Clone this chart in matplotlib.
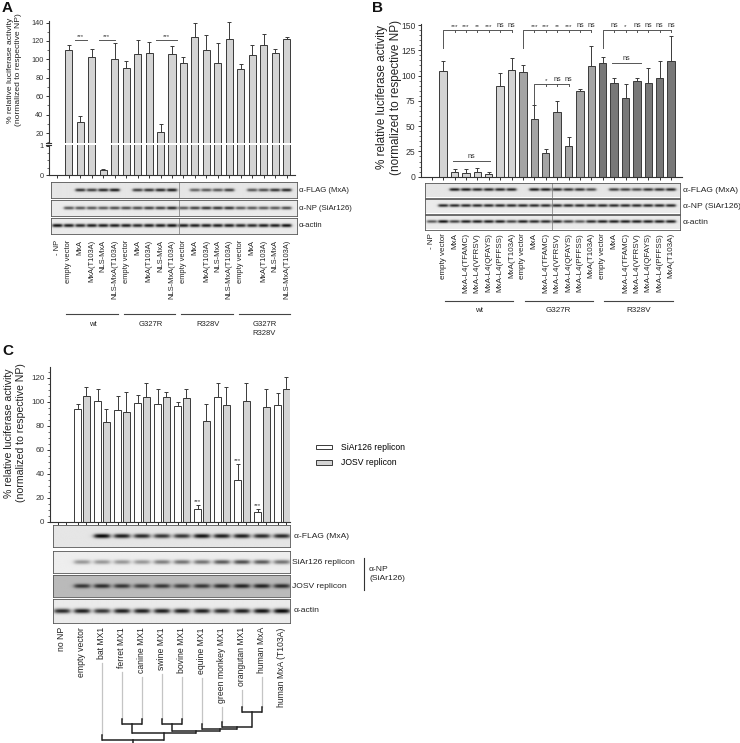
import numpy as np
import matplotlib
matplotlib.use('Agg')
import matplotlib.pyplot as plt
from matplotlib.ticker import MultipleLocator
from matplotlib.patches import Patch

plt.rcParams['font.family'] = ['Liberation Sans', 'DejaVu Sans']
plt.rcParams['axes.linewidth'] = 0.8

# ---------------- data ----------------
A_constructs = ['empty vector', 'MxA', 'MxA(T103A)', 'NLS-MxA', 'NLS-MxA(T103A)']
A_groups = ['wt', 'G327R', 'R328V', 'G327R\nR328V']
A_labels = ['- NP'] + A_constructs * 4
A_values = [0, 110.5, 32, 102.5, 0.17, 100.5,
            91, 105.5, 107, 21, 105.5,
            96, 124.5, 110.5, 96, 122.5,
            90, 105, 116, 107, 122.5]
A_errors = [0, 5.5, 6, 9, 0.05, 17,
            7, 16, 12, 9, 9.5,
            7, 15.5, 15.5, 22, 18.5,
            5, 11, 11.5, 4.5, 2]
A_flag = [0, 0, 0.75, 0.7, 0.8, 0.85, 0, 0.7, 0.75, 0.8, 0.85,
          0, 0.55, 0.6, 0.6, 0.7, 0, 0.6, 0.65, 0.75, 0.8]
A_np = [0, 0.6, 0.6, 0.6, 0.6, 0.65, 0.65, 0.65, 0.7, 0.7, 0.8,
        0.6, 0.7, 0.75, 0.75, 0.75, 0.6, 0.6, 0.6, 0.6, 0.65]
A_actin = [0.9, 0.85, 0.8, 0.85, 0.85, 0.85, 0.85, 0.8, 0.85, 0.85, 0.9,
           0.85, 0.85, 0.85, 0.85, 0.85, 0.8, 0.8, 0.85, 0.85, 0.9]
A_blot_rows = ['α-FLAG (MxA)', 'α-NP (SiAr126)', 'α-actin']

B_constructs = ['empty vector', 'MxA', 'MxA-L4(TFAMC)', 'MxA-L4(VFRSV)',
                'MxA-L4(QFAYS)', 'MxA-L4(PFFSS)', 'MxA(T103A)']
B_groups = ['wt', 'G327R', 'R328V']
B_labels = ['- NP'] + B_constructs * 3
B_values = [0, 104.5, 4.7, 3.3, 4.7, 2.7, 89.5, 105.5,
            104, 57.5, 23.8, 64, 30.7, 84.5, 109,
            112, 92.5, 78, 94.7, 92.5, 98, 114.5]
B_errors = [0, 9.5, 2.6, 4, 4, 1.6, 13, 11.5,
            6, 13, 3.3, 11, 9, 2.3, 20.5,
            6, 5.5, 13.5, 2.7, 15, 16.5, 25]
B_sig = ['***', '***', '**', '***', 'ns', 'ns',
         '***', '***', '**', '***', 'ns', 'ns',
         'ns', '*', 'ns', 'ns', 'ns', 'ns']
B_sig_inner = ['*', 'ns', 'ns']
B_flag = [0, 0, 0.85, 0.85, 0.8, 0.8, 0.8, 0.8, 0, 0.85, 0.85,
          0.8, 0.75, 0.75, 0.65, 0, 0.7, 0.7, 0.65, 0.75, 0.75, 0.8]
B_np = [0] + [0.8] * 21
B_actin = [0.6, 0.9, 0.7, 0.85, 0.85, 0.85, 0.85, 0.7, 0.85, 0.8, 0.8,
           0.8, 0.7, 0.6, 0.8, 0.85, 0.85, 0.85, 0.85, 0.85, 0.85, 0.85]

C_species = ['no NP', 'empty vector', 'bat MX1', 'ferret MX1', 'canine MX1',
             'swine MX1', 'bovine MX1', 'equine MX1', 'green monkey MX1',
             'orangutan MX1', 'human MxA', 'human MxA (T103A)']
C_series = ['SiAr126 replicon', 'JOSV replicon']
C_siar = [0, 94, 100.5, 93, 99, 98, 96.5, 10.6, 104, 35, 8.4, 97]
C_siar_err = [0, 4, 10.5, 11.7, 7, 13, 3, 3.4, 12, 13, 2.2, 10.5]
C_josv = [0, 104.7, 83, 91.5, 104, 104, 103.5, 83.7, 97, 101, 95.7, 111]
C_josv_err = [0, 8, 11, 16.5, 11.5, 4, 7.5, 14.3, 15, 15, 15.3, 9.6]
C_sig = ['', '', '', '', '', '', '', '***', '', '***', '***', '']
C_flag = [0, 0, 0.95, 0.85, 0.8, 0.75, 0.75, 0.9, 0.85, 0.85, 0.8, 0.8]
C_siar_blot = [0, 0.35, 0.35, 0.35, 0.35, 0.45, 0.5, 0.5, 0.6, 0.65, 0.6, 0.5]
C_josv_blot = [0, 0.7, 0.75, 0.7, 0.65, 0.7, 0.65, 0.7, 0.75, 0.8, 0.8, 0.75]
C_actin = [0.8, 0.85, 0.75, 0.85, 0.85, 0.85, 0.85, 0.85, 0.8, 0.85, 0.9, 0.95]
C_blot_rows = ['α-FLAG (MxA)', 'SiAr126 replicon', 'JOSV replicon', 'α-actin']
# dendrogram: (left child, right child, join level in px); children >= 100 are earlier nodes
C_tree = [(9, 10, 711.7), (8, 100, 726.7), (7, 101, 729.3), (5, 6, 724),
          (103, 102, 730.7), (3, 4, 724), (105, 104, 733.3), (2, 106, 740)]

# ---------------- layout helpers ----------------
W, H = 740, 743
fig = plt.figure(figsize=(W / 100, H / 100), dpi=100)
DARK = '#333333'
EDGE = '#3a3a3a'


def rect(x0, y0, x1, y1):
    return [x0 / W, 1 - y1 / H, (x1 - x0) / W, (y1 - y0) / H]


def style_ax(ax, fs):
    for s in ['top', 'right']:
        ax.spines[s].set_visible(False)
    for s in ax.spines.values():
        s.set_color(DARK)
    ax.tick_params(axis='both', which='major', length=2.5, width=0.7, colors=DARK,
                   labelsize=fs, pad=1.5)
    ax.tick_params(axis='both', which='minor', length=1.4, width=0.5, colors=DARK)
    ax.set_facecolor('none')


def draw_blot(ax, intens, xlim, bg=0.1, half=0.42, sy=0.1, yc=0.5):
    nx, ny = 700, 48
    xs = np.linspace(xlim[0], xlim[1], nx)
    ys = np.linspace(0, 1, ny)
    X, Y = np.meshgrid(xs, ys)
    img = np.full((ny, nx), float(bg))
    for lane, v in enumerate(intens):
        if v <= 0:
            continue
        px = 1.0 / (1.0 + np.exp((np.abs(X - lane) - half) / 0.07))
        py = np.exp(-((Y - yc) / sy) ** 2)
        img = img + (1 - img) * min(1.0, v * 1.05) * px * py
    ax.imshow(img, cmap='gray_r', vmin=0, vmax=1, extent=(xlim[0], xlim[1], 0, 1),
              origin='lower', aspect='auto', interpolation='bilinear')
    ax.set_xlim(xlim)
    ax.set_ylim(0, 1)
    ax.set_yticks([])
    ax.set_xticks([])
    for s in ax.spines.values():
        s.set_color('#555555')
        s.set_linewidth(0.6)


def dA(px):
    return (px - 57.3) / 11.47


def dB(px):
    return (px - 431.7) / 11.4


def dC(px):
    return (px - 62) / 20.0


# ---------------- panel A ----------------
xa = np.arange(len(A_labels))
va = np.array(A_values)
ea = np.array(A_errors)
axAu = fig.add_axes(rect(49, 20.5, 295, 143))
axAl = fig.add_axes(rect(49, 145, 295, 175))
m = va > 0
for ax in (axAu, axAl):
    ax.bar(xa[m], va[m], width=0.62, color='#d4d4d4', edgecolor=EDGE, linewidth=0.7, zorder=2)
    ax.set_xlim(dA(49), dA(295))
    style_ax(ax, 5.3)
mu = va > 1.05
axAu.errorbar(xa[mu], va[mu], yerr=[np.zeros(mu.sum()), ea[mu]], fmt='none',
              ecolor=EDGE, elinewidth=0.7, capsize=1.6, capthick=0.7, zorder=3)
ml = (va > 0) & (va <= 1.05)
axAl.errorbar(xa[ml], va[ml], yerr=[np.zeros(ml.sum()), ea[ml]], fmt='none',
              ecolor=EDGE, elinewidth=0.7, capsize=1.6, capthick=0.7, zorder=3)
axAu.set_ylim(9.19, 142.2)
axAu.set_yticks(np.arange(20, 141, 20))
axAu.yaxis.set_minor_locator(MultipleLocator(10))
axAu.spines['bottom'].set_visible(False)
axAu.set_xticks([])
axAl.set_ylim(0, 1.03)
axAl.set_yticks([0, 1])
axAl.yaxis.set_minor_locator(MultipleLocator(0.25))
axAl.set_xticks(xa)
axAl.set_xticklabels([])
# significance
for (x0, x1) in [(1.5, 2.6), (3.6, 5.0), (8.6, 10.4)]:
    axAu.plot([x0, x1], [120.5, 120.5], color='#555555', lw=0.7, clip_on=False)
    axAu.text((x0 + x1) / 2, 122.5, '***', ha='center', va='bottom', fontsize=4.3, color=DARK)

# blots A
A_strips = [(182, 198), (200, 216), (218, 234)]
A_ints = [A_flag, A_np, A_actin]
for k, ((y0, y1), ints, lab) in enumerate(zip(A_strips, A_ints, A_blot_rows)):
    ax = fig.add_axes(rect(51, y0, 297, y1))
    draw_blot(ax, ints, (dA(51), dA(297)), bg=0.1 if k == 0 else 0.08)
    ax.axvline(10.6, color='#777777', lw=0.5)
    ax.text(1.008, 0.5, lab, transform=ax.transAxes, ha='left', va='center', fontsize=5.6, color='#222222')
    if k == 2:
        ax.set_xticks(xa)
        ax.set_xticklabels(A_labels, rotation=90, fontsize=5.4, color='#222222')
        ax.tick_params(axis='x', length=0, pad=4)
        axA_bl = ax

# ---------------- panel B ----------------
xb = np.arange(len(B_labels))
vb = np.array(B_values)
eb = np.array(B_errors)
colB = np.array(['#ffffff'] + ['#d4d4d4'] * 7 + ['#a4a4a4'] * 7 + ['#787878'] * 7)
axB = fig.add_axes(rect(421, 24, 682, 176.7))
mb = vb > 0
axB.bar(xb[mb], vb[mb], width=0.64, color=colB[mb], edgecolor=EDGE, linewidth=0.7, zorder=2)
axB.errorbar(xb[mb], vb[mb], yerr=[np.zeros(mb.sum()), eb[mb]], fmt='none',
             ecolor=EDGE, elinewidth=0.7, capsize=1.6, capthick=0.7, zorder=3)
axB.set_xlim(dB(421), dB(682))
axB.set_ylim(0, 151)
axB.set_yticks(np.arange(0, 151, 25))
axB.yaxis.set_minor_locator(MultipleLocator(5))
axB.set_xticks(xb)
axB.set_xticklabels([])
style_ax(axB, 6.2)
bk = dict(color='#555555', lw=0.7, clip_on=False)
for g in range(3):
    s = 1 + 7 * g
    top = 145.2
    axB.plot([s, s, s + 6], [127, top, top], **bk)
    for j in range(1, 7):
        axB.plot([s + j, s + j], [top, top - 2], **bk)
        axB.text(s + j, top + 0.8, B_sig[6 * g + j - 1], ha='center', va='bottom',
                 fontsize=4.6 if B_sig[6 * g + j - 1] != 'ns' else 5.2, color=DARK)
# inner brackets
axB.plot([1.9, 5.1], [15.3, 15.3], **bk)
axB.text(3.5, 16.5, 'ns', ha='center', va='bottom', fontsize=5.2, color=DARK)
axB.plot([9, 9, 12], [72, 91.4, 91.4], **bk)
for j, lab in zip([10, 11, 12], B_sig_inner):
    axB.plot([j, j], [91.4, 89.4], **bk)
    axB.text(j, 92.2, lab, ha='center', va='bottom', fontsize=5.2 if lab == 'ns' else 4.6, color=DARK)
axB.plot([15.8, 18.4], [112, 112], **bk)
axB.text(17.1, 113.2, 'ns', ha='center', va='bottom', fontsize=5.2, color=DARK)

B_strips = [(182.5, 197.5), (198.5, 213.5), (214.5, 229.5)]
B_ints = [B_flag, B_np, B_actin]
for k, ((y0, y1), ints, lab) in enumerate(zip(B_strips, B_ints, A_blot_rows)):
    ax = fig.add_axes(rect(425, y0, 680, y1))
    draw_blot(ax, ints, (dB(425), dB(680)), bg=0.1 if k == 0 else 0.08)
    ax.axvline(10.55, color='#777777', lw=0.5)
    ax.text(1.01, 0.5, lab, transform=ax.transAxes, ha='left', va='center', fontsize=6.1, color='#222222')
    if k == 2:
        ax.set_xticks(xb)
        ax.set_xticklabels(B_labels, rotation=90, fontsize=5.8, color='#222222')
        ax.tick_params(axis='x', length=0, pad=2.5)
        axB_bl = ax

# ---------------- panel C ----------------
xc = np.arange(len(C_species))
vs = np.array(C_siar)
es = np.array(C_siar_err)
vj = np.array(C_josv)
ej = np.array(C_josv_err)
axC = fig.add_axes(rect(50, 367, 290, 522))
mc = vs > 0
off, bw = 0.21, 0.35
axC.bar(xc[mc] - off, vs[mc], width=bw, color='white', edgecolor=EDGE, linewidth=0.7, zorder=2, label=C_series[0])
axC.bar(xc[mc] + off, vj[mc], width=bw, color='#d4d4d4', edgecolor=EDGE, linewidth=0.7, zorder=2, label=C_series[1])
axC.errorbar(xc[mc] - off, vs[mc], yerr=[np.zeros(mc.sum()), es[mc]], fmt='none',
             ecolor=EDGE, elinewidth=0.7, capsize=1.4, capthick=0.7, zorder=3)
axC.errorbar(xc[mc] + off, vj[mc], yerr=[np.zeros(mc.sum()), ej[mc]], fmt='none',
             ecolor=EDGE, elinewidth=0.7, capsize=1.4, capthick=0.7, zorder=3)
for i in xc:
    if C_sig[i]:
        axC.text(i - off, vs[i] + es[i] + 0.8, C_sig[i], ha='center', va='bottom', fontsize=4.5, color=DARK)
axC.set_xlim(dC(50), dC(290))
axC.set_ylim(0, 129)
axC.set_yticks(np.arange(0, 121, 20))
axC.yaxis.set_minor_locator(MultipleLocator(5))
axC.set_xticks(np.concatenate([xc - off, xc + off]))
axC.set_xticklabels([])
style_ax(axC, 5.8)
axC.legend(handles=[Patch(facecolor='white', edgecolor=EDGE, linewidth=0.7),
                    Patch(facecolor='#d4d4d4', edgecolor=EDGE, linewidth=0.7)],
           labels=C_series, loc='upper left', bbox_to_anchor=(316 / W, 1 - 443 / H),
           bbox_transform=fig.transFigure, frameon=False, fontsize=6.2, handlelength=1.9,
           handleheight=0.4, handletextpad=1.0, labelspacing=0.75, borderpad=0, borderaxespad=0)

C_strips = [(525, 547), (551, 573), (575, 597), (599, 623)]
C_ints = [C_flag, C_siar_blot, C_josv_blot, C_actin]
C_bg = [0.1, 0.07, 0.27, 0.08]
for k, ((y0, y1), ints, lab) in enumerate(zip(C_strips, C_ints, C_blot_rows)):
    ax = fig.add_axes(rect(53, y0, 290, y1))
    draw_blot(ax, ints, (dC(53), dC(290)), bg=C_bg[k], half=0.38, sy=0.1)
    ax.text(1.015 if k in (0, 3) else 1.008, 0.5, lab, transform=ax.transAxes, ha='left', va='center',
            fontsize=6.1, color='#222222')
    if k == 3:
        ax.set_xticks(xc)
        ax.set_xticklabels(C_species, rotation=90, fontsize=6.2, color='#222222')
        ax.tick_params(axis='x', length=0, pad=3)
        axC_bl = ax

# ---------------- overlay (labels, group lines, tree) ----------------
ov = fig.add_axes([0, 0, 1, 1], zorder=10)
ov.set_xlim(0, W)
ov.set_ylim(H, 0)
ov.axis('off')
ov.patch.set_alpha(0)


def to_px(ax, x, y=0):
    d = ax.transData.transform((x, y))
    return d[0], H - d[1]


# panel letters
for (x, y, t) in [(2, 8, 'A'), (372, 8, 'B'), (2, 351, 'C')]:
    ov.text(x, y, t, fontsize=11, fontweight='bold', ha='left', va='center', color='#111111')

# y labels
ylab = '% relative luciferase activity\n(normalized to respective NP)'
ov.text(14.5, 70, ylab, rotation=90, ha='center', va='center', fontsize=6.1, color='#222222', linespacing=1.3)
ov.text(389, 97, ylab, rotation=90, ha='center', va='center', fontsize=8.5, color='#222222', linespacing=1.15)
ov.text(15, 433, ylab, rotation=90, ha='center', va='center', fontsize=7.6, color='#222222', linespacing=1.2)

# axis break marks in A
ov.plot([45.5, 50.5], [143.3, 143.3], color=DARK, lw=0.8)
ov.plot([45.5, 50.5], [145.2, 145.2], color=DARK, lw=0.8)

# A group lines
for g, name in enumerate(A_groups):
    x0, _ = to_px(axA_bl, 1 + 5 * g - 0.2)
    x1, _ = to_px(axA_bl, 5 + 5 * g + 0.3)
    ov.plot([x0, x1], [314, 314], color='#444444', lw=0.8)
    if '\n' not in name:
        ov.text((x0 + x1) / 2 + 1, 325, name, ha='center', va='center', fontsize=5.5, color='#222222')
    else:
        ov.text((x0 + x1) / 2, 321, name, ha='center', va='top', fontsize=5.5, color='#222222', linespacing=1.35)

# B group lines
for g, name in enumerate(B_groups):
    x0, _ = to_px(axB_bl, 1 + 7 * g + 0.15)
    x1, _ = to_px(axB_bl, 7 + 7 * g + 0.15)
    ov.plot([x0, x1], [301, 301], color='#444444', lw=0.8)
    ov.text((x0 + x1) / 2, 310, name, ha='center', va='center', fontsize=5.8, color='#222222')

# C bracket for NP
ov.plot([364, 364], [558, 590], color='#333333', lw=0.8)
ov.text(369, 574, 'α-NP\n(SiAr126)', ha='left', va='center', fontsize=6.1, color='#222222', linespacing=1.3)

# dendrogram
fig.canvas.draw()
renderer = fig.canvas.get_renderer()
leaf_top = {}
for i, tl in enumerate(axC_bl.get_xticklabels()):
    bb = tl.get_window_extent(renderer)
    leaf_top[i] = H - bb.y0 + 4
node_x, node_y = {}, {}
for i in range(len(C_species)):
    node_x[i] = to_px(axC_bl, i)[0]
for n, (a, b, lev) in enumerate(C_tree):
    nid = 100 + n
    for c in (a, b):
        if c < 100:
            ov.plot([node_x[c], node_x[c]], [leaf_top[c], lev - 5], color='#c4c4c4', lw=0.9)
            ov.plot([node_x[c], node_x[c]], [lev - 5, lev], color='#222222', lw=1.1)
        else:
            ov.plot([node_x[c], node_x[c]], [node_y[c], lev], color='#222222', lw=1.1)
    ov.plot([node_x[a], node_x[b]], [lev, lev], color='#222222', lw=1.1, solid_capstyle='butt')
    node_x[nid] = (node_x[a] + node_x[b]) / 2
    node_y[nid] = lev
root = 100 + len(C_tree) - 1
ov.plot([node_x[root], node_x[root]], [node_y[root], H + 2], color='#222222', lw=1.1)

fig.savefig('out.png', dpi=100)
